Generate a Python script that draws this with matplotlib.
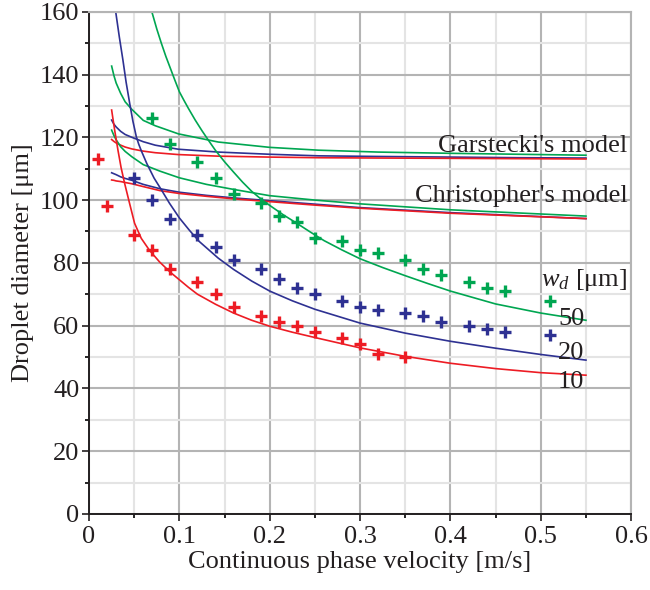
import numpy as np
import matplotlib
matplotlib.use("Agg")
import matplotlib.pyplot as plt
from matplotlib.ticker import MultipleLocator

plt.rcParams["font.family"] = ["Liberation Serif", "DejaVu Serif"]
plt.rcParams["mathtext.fontset"] = "custom"
plt.rcParams["mathtext.rm"] = "Liberation Serif"
plt.rcParams["mathtext.it"] = "Liberation Serif:italic"

RED = "#ed1c24"
BLUE = "#2e3192"
GREEN = "#00a651"

# Experimental points, w_d = 10, 20, 50 um
vel_10 = [0.01, 0.02, 0.05, 0.07, 0.09, 0.12, 0.14, 0.16, 0.19, 0.21, 0.23, 0.25, 0.28, 0.30, 0.32, 0.35]
dia_10 = [113, 98, 89, 84, 78, 74, 70, 66, 63, 61, 60, 58, 56, 54, 51, 50]
vel_20 = [0.05, 0.07, 0.09, 0.12, 0.14, 0.16, 0.19, 0.21, 0.23, 0.25, 0.28, 0.30, 0.32, 0.35, 0.37, 0.39,
          0.42, 0.44, 0.46, 0.51]
dia_20 = [107, 100, 94, 89, 85, 81, 78, 75, 72, 70, 68, 66, 65, 64, 63, 61, 60, 59, 58, 57]
vel_50 = [0.07, 0.09, 0.12, 0.14, 0.16, 0.19, 0.21, 0.23, 0.25, 0.28, 0.30, 0.32, 0.35, 0.37, 0.39, 0.42,
          0.44, 0.46, 0.51]
dia_50 = [126, 118, 112, 107, 102, 99, 95, 93, 88, 87, 84, 83, 81, 78, 76, 74, 72, 71, 68]

# Present model curves
vm_10 = [0.025, 0.0285, 0.032, 0.0355, 0.0394, 0.0449, 0.0504, 0.0578, 0.0669, 0.078, 0.09, 0.1, 0.11,
         0.12, 0.14, 0.16, 0.18, 0.2, 0.225, 0.25, 0.3, 0.35, 0.4, 0.45, 0.5, 0.55]
dm_10 = [128.7, 122.0, 115.9, 110.3, 105.3, 98.9, 92.6, 87.8, 84.0, 80.3, 77.0, 74.6, 72.2,
         70.0, 66.8, 64.0, 61.7, 59.8, 57.9, 56.2, 52.9, 50.2, 48.0, 46.3, 45.0, 44.2]
vm_20 = [0.025, 0.0295, 0.0335, 0.0375, 0.041, 0.045, 0.0485, 0.0523, 0.055, 0.058, 0.064, 0.072, 0.08,
         0.089, 0.1, 0.111, 0.122, 0.143, 0.16, 0.18, 0.2, 0.225, 0.25, 0.3, 0.35, 0.4, 0.45, 0.5, 0.55]
dm_20 = [169.5, 160.0, 152.0, 144.6, 137.6, 130.8, 125.2, 120.2, 117.8, 115.6, 111.6, 107.0, 103.3,
         99.0, 94.3, 90.4, 86.8, 81.5, 77.9, 74.2, 71.0, 67.9, 65.2, 60.8, 57.6, 55.0, 52.8, 50.8, 49.0]
vm_50 = [0.07, 0.075, 0.08, 0.085, 0.09, 0.095, 0.1, 0.105, 0.11, 0.1175, 0.125, 0.1325, 0.14, 0.15,
         0.16, 0.17, 0.18, 0.19, 0.2, 0.215, 0.23, 0.245, 0.26, 0.28, 0.3, 0.325, 0.35, 0.375, 0.4,
         0.45, 0.5, 0.55]
dm_50 = [159.5, 154.5, 150.0, 145.8, 142.0, 138.2, 134.5, 131.8, 129.2, 125.5, 122.1, 118.9, 115.8,
         112.2, 108.9, 105.7, 102.8, 100.4, 98.3, 95.3, 92.6, 89.8, 87.1, 84.1, 81.3, 78.5, 75.9, 73.4,
         71.0, 66.9, 64.0, 61.7]

# Garstecki's model
vm_gar = [0.025, 0.0275, 0.03, 0.035, 0.04, 0.0474, 0.06, 0.0732, 0.0989, 0.143, 0.2, 0.254, 0.32,
          0.401, 0.475, 0.55]
gar_10 = [119.3, 118.7, 118.2, 117.5, 116.9, 116.3, 115.6, 115.1, 114.5, 114.0, 113.7, 113.5, 113.4,
          113.3, 113.2, 113.1]
gar_20 = [125.5, 124.2, 123.3, 121.9, 120.9, 120.0, 118.6, 117.5, 116.2, 115.3, 114.6, 114.1, 113.9,
          113.7, 113.5, 113.4]
gar_50 = [142.7, 139.7, 137.3, 134.0, 131.3, 128.9, 125.4, 123.7, 121.1, 118.5, 116.8, 115.9, 115.3,
          114.9, 114.6, 114.3]

# Christopher's model
vm_chr = [0.025, 0.0275, 0.03, 0.035, 0.04, 0.0474, 0.06, 0.0787, 0.1, 0.13, 0.16, 0.2, 0.25, 0.3,
          0.4, 0.55]
chr_10 = [106.4, 106.3, 106.1, 105.9, 105.6, 105.2, 104.3, 103.0, 102.1, 101.2, 100.4, 99.5, 98.4,
          97.4, 95.8, 94.1]
chr_20 = [108.7, 108.4, 108.1, 107.4, 106.9, 106.3, 105.0, 103.6, 102.5, 101.5, 100.7, 99.8, 98.7,
          97.6, 96.0, 94.1]
chr_50 = [122.3, 120.6, 119.2, 117.0, 115.5, 113.8, 111.3, 109.2, 107.1, 105.0, 103.4, 101.4, 100.0,
          98.8, 96.9, 94.9]

x_ticks = [0, 0.1, 0.2, 0.3, 0.4, 0.5, 0.6]
x_labels = ["0", "0.1", "0.2", "0.3", "0.4", "0.5", "0.6"]
y_ticks = [0, 20, 40, 60, 80, 100, 120, 140, 160]

fig = plt.figure(figsize=(6.5, 5.9), dpi=100)
ax = fig.add_axes([0.137, 0.129, 0.834, 0.851])

# grid
ax.xaxis.set_minor_locator(MultipleLocator(0.05))
ax.yaxis.set_minor_locator(MultipleLocator(10))
ax.grid(which="minor", color="#e4e4e4", lw=1.5, zorder=0)
ax.grid(which="major", color="#b4b4b4", lw=1.5, zorder=0)
ax.set_axisbelow(True)

lw = 1.2
ax.plot(vm_gar, gar_50, color=GREEN, lw=lw)
ax.plot(vm_gar, gar_20, color=BLUE, lw=lw)
ax.plot(vm_gar, gar_10, color=RED, lw=lw)
ax.plot(vm_chr, chr_50, color=GREEN, lw=lw)
ax.plot(vm_chr, chr_20, color=BLUE, lw=lw)
ax.plot(vm_chr, chr_10, color=RED, lw=lw)
ax.plot(vm_50, dm_50, color=GREEN, lw=lw)
ax.plot(vm_20, dm_20, color=BLUE, lw=lw)
ax.plot(vm_10, dm_10, color=RED, lw=lw)

mk = dict(marker="+", ls="none", ms=8, mew=2.4)
ax.plot(vel_10, dia_10, color=RED, **mk)
ax.plot(vel_20, dia_20, color=BLUE, **mk)
ax.plot(vel_50, dia_50, color=GREEN, **mk)

fs = 19
ax.text(0.596, 115.4, "Garstecki's model", ha="right", va="baseline", fontsize=fs, color="#231f20")
ax.text(0.596, 99.4, "Christopher's model", ha="right", va="baseline", fontsize=fs, color="#231f20")
ax.text(0.596, 72.5, r"$w_d$ [μm]", ha="right", va="baseline", fontsize=fs, color="#231f20")
ax.text(0.548, 60.1, "50", ha="right", va="baseline", fontsize=fs, color="#231f20")
ax.text(0.548, 49.5, "20", ha="right", va="baseline", fontsize=fs, color="#231f20")
ax.text(0.548, 40.0, "10", ha="right", va="baseline", fontsize=fs, color="#231f20")

ax.set_xlim(0, 0.6)
ax.set_ylim(0, 160)
ax.set_xticks(x_ticks)
ax.set_xticklabels(x_labels)
ax.set_yticks(y_ticks)
ax.tick_params(which="major", direction="out", length=5, width=1.2, labelsize=fs, colors="#231f20")
ax.tick_params(which="minor", direction="out", length=3, width=1.2)
ax.tick_params(axis="y", pad=2)
ax.tick_params(axis="x", pad=4)

for side in ["left", "bottom"]:
    ax.spines[side].set_color("#231f20")
    ax.spines[side].set_linewidth(1.4)
for side in ["top", "right"]:
    ax.spines[side].set_color("#b4b4b4")
    ax.spines[side].set_linewidth(1.5)

ax.set_xlabel("Continuous phase velocity [m/s]", fontsize=fs, color="#231f20", labelpad=2)
ax.set_ylabel("Droplet diameter [μm]", fontsize=fs, color="#231f20", labelpad=4)

fig.savefig("out.png", dpi=100)
